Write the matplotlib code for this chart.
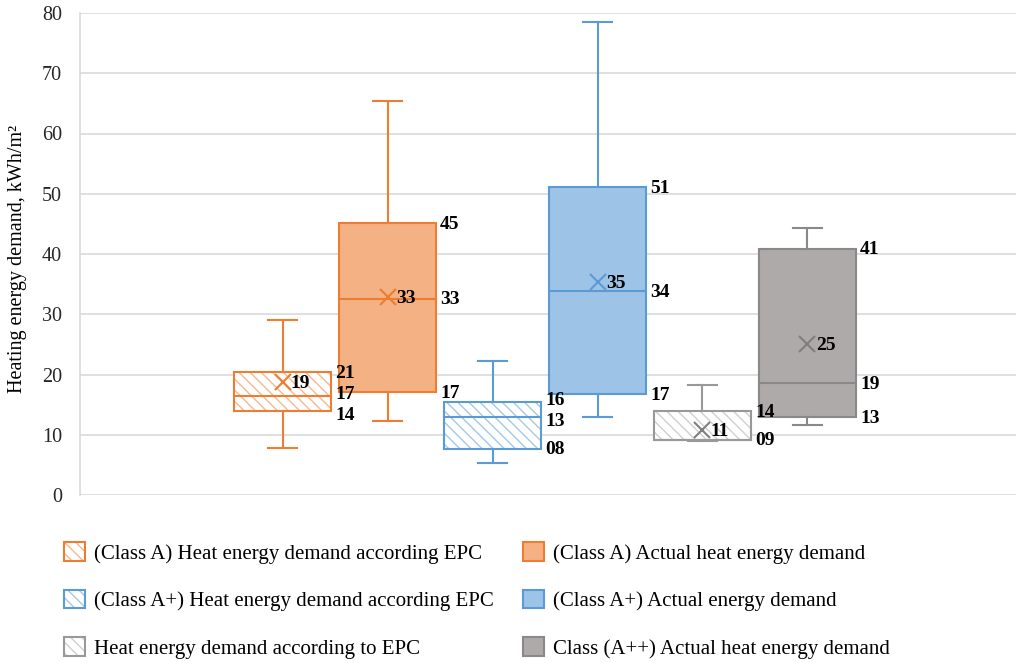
import matplotlib
matplotlib.use('Agg')
import matplotlib.pyplot as plt
from matplotlib.patches import Patch

plt.rcParams['font.family'] = ['Liberation Serif', 'DejaVu Serif']
plt.rcParams['hatch.linewidth'] = 1.0

# ---- data ----
series = ['(Class A) Heat energy demand according EPC',
          '(Class A) Actual heat energy demand',
          '(Class A+) Heat energy demand according EPC',
          '(Class A+) Actual energy demand',
          'Heat energy demand according to EPC',
          'Class (A++) Actual heat energy demand']
whislo = [7.8, 12.3, 5.3, 13.0, 9.0, 11.6]
q1 = [14.0, 17.1, 7.7, 16.8, 9.2, 13.0]
med = [16.5, 32.6, 13.0, 33.9, 9.2, 18.6]
q3 = [20.4, 45.1, 15.5, 51.1, 14.0, 40.9]
whishi = [29.0, 65.4, 22.3, 78.5, 18.3, 44.3]
means = [18.8, 32.8, None, 35.3, 10.8, 25.1]
q3_labels = ['21', '45', '16', '51', '14', '41']
med_labels = ['17', '33', '13', '34', None, '19']
q1_labels = ['14', '17', '08', '17', '09', '13']
mean_labels = ['19', '33', None, '35', '11', '25']
yticks = [0, 10, 20, 30, 40, 50, 60, 70, 80]

# ---- styles ----
hatched = [True, False, True, False, True, False]
edge_cols = ['#ED7D31', '#ED7D31', '#5B9BD5', '#5B9BD5', '#999999', '#8A8888']
fill_cols = ['white', '#F4B183', 'white', '#9DC3E6', 'white', '#AEAAAA']
hatch_cols = ['#F5B890', None, '#A5C8E8', None, '#D0D0D0', None]
mean_cols = ['#ED7D31', '#ED7D31', '#5B9BD5', '#5B9BD5', '#7F7F7F', '#7F7F7F']
HATCH = '\\\\\\'
W = 0.92

fig = plt.figure(figsize=(10.2, 6.63), dpi=100)
ax = fig.add_axes([80/1020, 168/663, 936/1020, 482/663])
ax.set_xlim(-1.929, 6.986)
ax.set_ylim(0, 80)
px_per_unit = 482 / 80

for i in range(len(series)):
    st = dict(whislo=whislo[i], q1=q1[i], med=med[i], q3=q3[i],
              whishi=whishi[i], label='')
    if hatched[i]:
        ax.bxp([st], positions=[i], widths=W, patch_artist=True,
               showcaps=False, showfliers=False, manage_ticks=False,
               boxprops=dict(facecolor='white', edgecolor=hatch_cols[i],
                             hatch=HATCH, linewidth=0),
               whiskerprops=dict(linewidth=0), medianprops=dict(linewidth=0),
               zorder=2)
    ec = edge_cols[i]
    ax.bxp([st], positions=[i], widths=W, capwidths=0.28, patch_artist=True,
           showfliers=False, manage_ticks=False,
           boxprops=dict(facecolor='none' if hatched[i] else fill_cols[i],
                         edgecolor=ec, linewidth=1.5),
           whiskerprops=dict(color=ec, linewidth=1.5),
           capprops=dict(color=ec, linewidth=1.5),
           medianprops=dict(color=ec, linewidth=1.5), zorder=3)
    if means[i] is not None:
        ax.plot([i], [means[i]], marker='x', ms=12, mew=1.5,
                color=mean_cols[i], zorder=4)
    lab_kw = dict(textcoords='offset points', ha='left', va='center',
                  fontsize=14, fontweight='bold', color='black', zorder=5)
    items = [(v, t) for v, t in ((q3[i], q3_labels[i]), (med[i], med_labels[i]),
                                 (q1[i], q1_labels[i])) if t is not None]
    # small vertical nudges so that close labels do not collide
    offs = [-1.0] * len(items)
    for k in range(len(items) - 1):
        gap_px = (items[k][0] - items[k + 1][0]) * px_per_unit
        if gap_px < 21:
            push = (21 - gap_px) / 2 * 0.72
            offs[k] += push
            offs[k + 1] -= push
    for (val, txt), dy in zip(items, offs):
        ax.annotate(txt, xy=(i + W / 2, val), xytext=(3, dy), **lab_kw)
    if mean_labels[i] is not None:
        ax.annotate(mean_labels[i], xy=(i, means[i]), xytext=(6, -1), **lab_kw)

ax.set_yticks(yticks)
ax.set_xticks([])
ax.grid(axis='y', color='#D9D9D9', linewidth=1.2)
ax.set_axisbelow(True)
for s in ['top', 'right', 'bottom']:
    ax.spines[s].set_visible(False)
ax.spines['left'].set_color('#D9D9D9')
ax.spines['left'].set_linewidth(1.2)
ax.tick_params(axis='y', length=0, pad=13, labelsize=14.5, labelcolor='#262626')
ax.set_ylabel('Heating energy demand, kWh/m²', fontsize=14.5, color='black')
ax.yaxis.set_label_coords(-0.057, 0.49)

# ---- legend ----
handles = []
for i in range(len(series)):
    if hatched[i]:
        h = (Patch(facecolor='white', edgecolor=hatch_cols[i], hatch=HATCH, linewidth=0),
             Patch(facecolor='none', edgecolor=edge_cols[i], linewidth=1.5))
    else:
        h = Patch(facecolor=fill_cols[i], edgecolor=edge_cols[i], linewidth=1.5)
    handles.append(h)

fs_px = 15 * 100 / 72
leg_kw = dict(loc='upper left', frameon=False, fontsize=15, borderpad=0,
              borderaxespad=0, handlelength=21 / fs_px, handleheight=21 / fs_px,
              handletextpad=9 / fs_px, labelspacing=1.25)
cols = [[0, 2, 4], [1, 3, 5]]
xs = [64 / 1020, 523 / 1020]
for c, x0 in zip(cols, xs):
    fig.legend([handles[k] for k in c], [series[k] for k in c],
               bbox_to_anchor=(x0, 1 - 542 / 663), **leg_kw)

fig.savefig('out.png', dpi=100)
